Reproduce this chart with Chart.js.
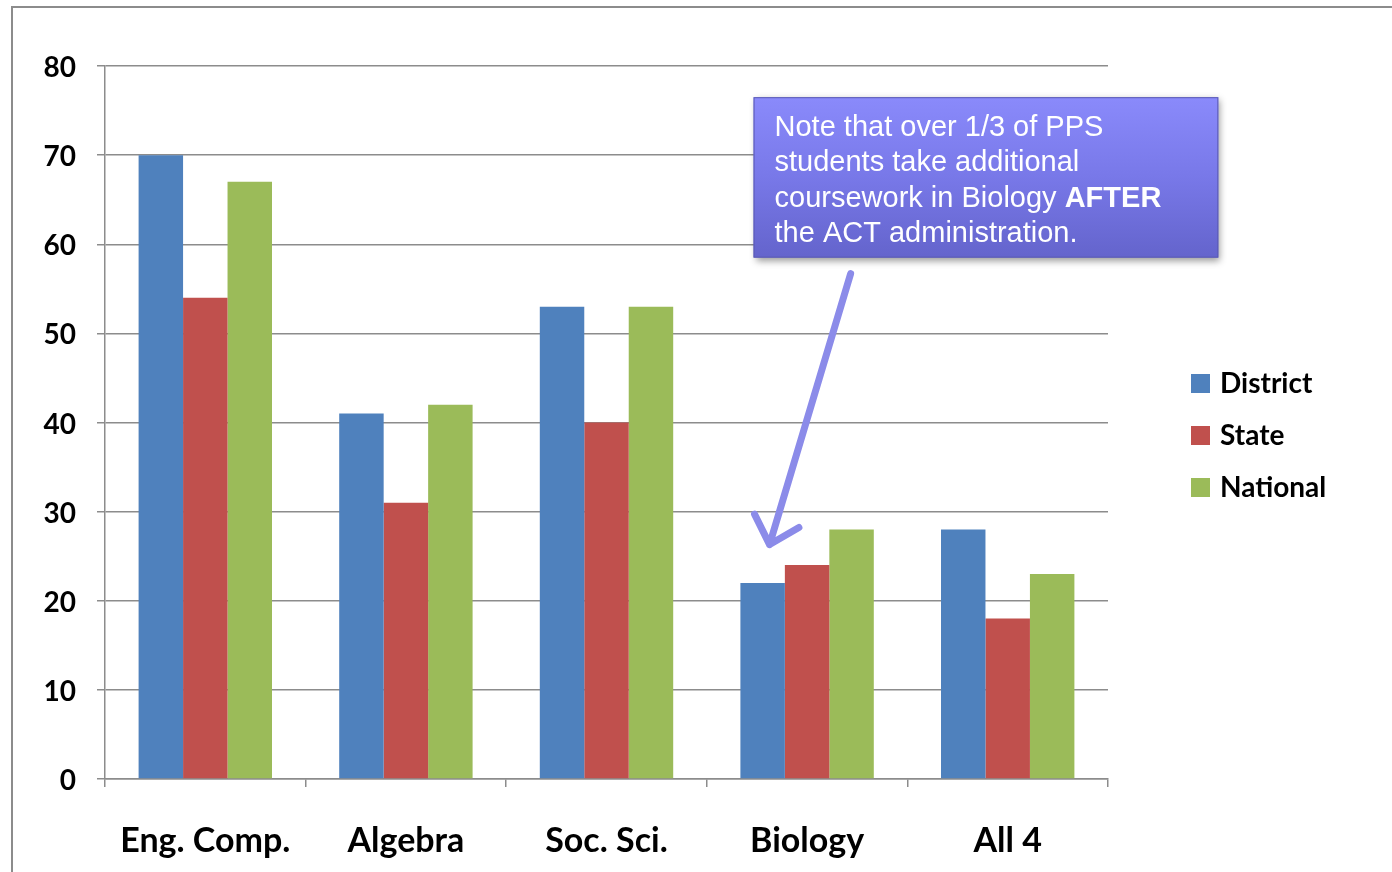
<!DOCTYPE html>
<html>
<head>
<meta charset="utf-8">
<script src="https://cdn.jsdelivr.net/npm/chart.js@4"></script>
<style>
  body { margin: 0; background: #fff; }
  #wrap { position: relative; width: 1392px; height: 872px; overflow: hidden; }
  #frame { position: absolute; left: 11px; top: 6px; width: 1400px; height: 900px;
           border-top: 2px solid #8c8c8c; border-left: 2px solid #8c8c8c; }
  canvas { position: absolute; left: 0; top: 0; }
</style>
</head>
<body>
<div id="wrap">
  <div id="frame"></div>
  <canvas id="chart" width="1392" height="872"></canvas>
</div>
<script>
// ---- data ----
const categories = ["Eng. Comp.", "Algebra", "Soc. Sci.", "Biology", "All 4"];
const district = [70, 41, 53, 22, 28];
const state = [54, 31, 40, 24, 18];
const national = [67, 42, 53, 28, 23];
const yTicks = [0, 10, 20, 30, 40, 50, 60, 70, 80];

const noteLines = [
  [["Note that over 1/3 of PPS", false]],
  [["students take additional", false]],
  [["coursework in Biology ", false], ["AFTER", true]],
  [["the ACT administration.", false]],
];

const LABEL_FONT = "Lato";

// box + arrow placed in data space (category index offset, value)
const note = { cat: 3, x0: -0.267, x1: 2.05, yTop: 76.5, yBottom: 58.5 };
const arrow = { cat: 3, fromX: 0.217, fromY: 56.7, toX: -0.187, toY: 26.3 };

function catX(xs, cat, frac) {
  const c = xs.getPixelForValue(cat);
  const w = xs.getPixelForValue(cat + 1) - c;
  return c + frac * w;
}

const notePlugin = {
  id: "note",
  afterDraw(chart) {
    const ctx = chart.ctx;
    const xs = chart.scales.x, ys = chart.scales.y;

    // legend (drawn by hand to keep it to the right of the plot)
    const area = chart.chartArea;
    ctx.save();
    chart.data.datasets.forEach((ds, i) => {
      const cy = chart.height / 2 - 52 + i * 52;
      const lx = area.right + 83;
      ctx.fillStyle = ds.backgroundColor;
      ctx.fillRect(lx, cy - 10, 19, 19);
      ctx.fillStyle = "#000";
      ctx.font = "bold 28px " + LABEL_FONT;
      ctx.textBaseline = "middle";
      ctx.textAlign = "left";
      ctx.fillText(ds.label, lx + 29, cy);
    });
    ctx.restore();

    // arrow
    const ax0 = catX(xs, arrow.cat, arrow.fromX), ay0 = ys.getPixelForValue(arrow.fromY);
    const ax1 = catX(xs, arrow.cat, arrow.toX), ay1 = ys.getPixelForValue(arrow.toY);
    const ang = Math.atan2(ay1 - ay0, ax1 - ax0);
    ctx.save();
    ctx.strokeStyle = "#8b8be9";
    ctx.lineWidth = 7;
    ctx.lineCap = "round";
    ctx.lineJoin = "round";
    ctx.beginPath();
    ctx.moveTo(ax0, ay0);
    ctx.lineTo(ax1, ay1);
    const hl = 34;
    ctx.moveTo(ax1 - hl * Math.cos(ang - 0.75), ay1 - hl * Math.sin(ang - 0.75));
    ctx.lineTo(ax1, ay1);
    ctx.lineTo(ax1 - hl * Math.cos(ang + 0.75), ay1 - hl * Math.sin(ang + 0.75));
    ctx.stroke();
    ctx.restore();

    // note box
    const bx0 = catX(xs, note.cat, note.x0), bx1 = catX(xs, note.cat, note.x1);
    const by0 = ys.getPixelForValue(note.yTop), by1 = ys.getPixelForValue(note.yBottom);
    ctx.save();
    ctx.shadowColor = "rgba(0,0,0,0.4)";
    ctx.shadowBlur = 7;
    ctx.shadowOffsetX = 2;
    ctx.shadowOffsetY = 3;
    const g = ctx.createLinearGradient(0, by0, 0, by1);
    g.addColorStop(0, "#8a8afb");
    g.addColorStop(0.5, "#7878e8");
    g.addColorStop(1, "#6464cc");
    ctx.fillStyle = g;
    ctx.fillRect(bx0, by0, bx1 - bx0, by1 - by0);
    ctx.restore();
    ctx.save();
    ctx.strokeStyle = "#5a5ab4";
    ctx.lineWidth = 1;
    ctx.strokeRect(bx0 + 0.5, by0 + 0.5, bx1 - bx0 - 1, by1 - by0 - 1);
    ctx.fillStyle = "#fff";
    ctx.textBaseline = "middle";
    ctx.textAlign = "left";
    noteLines.forEach((parts, i) => {
      let x = bx0 + 21;
      const y = by0 + 31 + i * 35.3;
      parts.forEach(([txt, bold]) => {
        ctx.font = (bold ? "bold " : "") + "29px 'Liberation Sans', Arial, sans-serif";
        ctx.fillText(txt, x, y);
        x += ctx.measureText(txt).width;
      });
    });
    ctx.restore();
  },
};

new Chart(document.getElementById("chart"), {
  type: "bar",
  data: {
    labels: categories,
    datasets: [
      { label: "District", data: district, backgroundColor: "#4f81bd" },
      { label: "State", data: state, backgroundColor: "#c0504d" },
      { label: "National", data: national, backgroundColor: "#9bbb59" },
    ],
  },
  options: {
    responsive: false,
    animation: false,
    devicePixelRatio: 1,
    categoryPercentage: 0.665,
    barPercentage: 1.0,
    layout: { padding: { top: 66, right: 284, bottom: 0, left: 0 } },
    plugins: { legend: { display: false }, tooltip: { enabled: false } },
    scales: {
      x: {
        offset: true,
        grid: { offset: true, drawOnChartArea: false, drawTicks: true, tickLength: 8, color: "#8c8c8c", lineWidth: 1.5 },
        border: { color: "#8c8c8c", width: 1.5 },
        ticks: { color: "#000", font: { family: LABEL_FONT, size: 34, weight: "bold" }, padding: 34, maxRotation: 0 },
        afterFit(scale) { scale.height = 93; },
      },
      y: {
        min: 0,
        max: 80,
        afterBuildTicks(scale) { scale.ticks = yTicks.map((v) => ({ value: v })); },
        grid: { color: "#8c8c8c", lineWidth: 1.5, tickLength: 8 },
        border: { color: "#8c8c8c", width: 1.5 },
        ticks: { color: "#000", font: { family: LABEL_FONT, size: 28, weight: "bold" }, padding: 21, labelOffset: 2 },
        afterFit(scale) { scale.width = 105; },
      },
    },
  },
  plugins: [notePlugin],
});
</script>
</body>
</html>
